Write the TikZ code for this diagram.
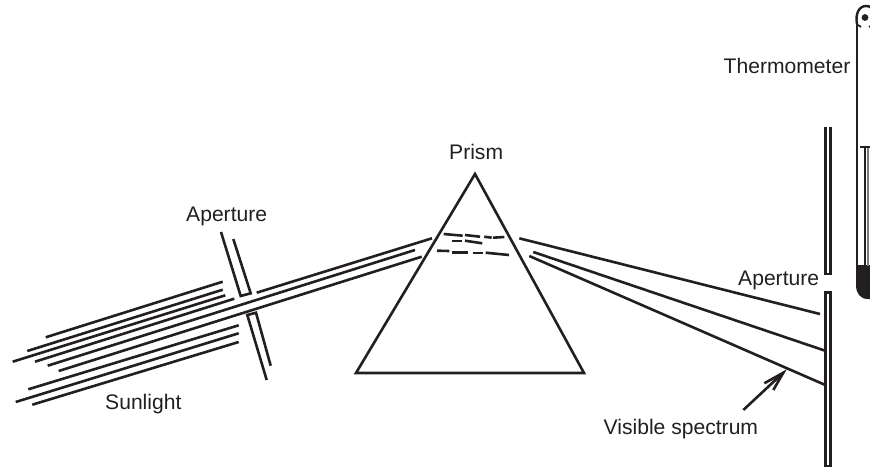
\documentclass[tikz,border=0pt]{standalone}
\usepackage{fontspec}
\setmainfont{Liberation Sans}
\definecolor{ink}{HTML}{231F20}
\tikzset{
  ray/.style={line width=2.6pt,color=ink},
  lab/.style={inner sep=0pt,anchor=base west,text=ink,font=\fontsize{21.1}{24}\selectfont},
}
\begin{document}
\begin{tikzpicture}[x=1pt,y=-1pt,line cap=butt,line join=miter]
\useasboundingbox (0,0) rectangle (870,468);
\begin{scope}
\clip (0,0) rectangle (870,468);
% sunlight
\draw[ray] (45.7,337.3)--(222.7,281.7);
\draw[ray] (27.3,351)--(222.7,289.7);
\draw[ray] (12.7,361.7)--(225.3,295.3);
\draw[ray] (35,361.7)--(234.3,298.7);
\draw[ray] (256.7,292.7)--(432,238.3);
\draw[ray] (47.7,365.7)--(415,250);
\draw[ray] (58.7,371)--(421.7,256.7);
\draw[ray] (28.3,389.3)--(238.7,325.3);
\draw[ray] (15.7,402)--(238.7,333.3);
\draw[ray] (32.3,404.7)--(238.7,342);
% first aperture
\draw[ray] (221,232)--(240.7,296)--(250.7,293.3)--(233.3,239);
\draw[ray] (266.7,380)--(247.3,315)--(256,312.7)--(270.7,365.7);
% prism
\draw[ray] (475,174)--(356,373)--(584,373)--cycle;
% internal dashes
\draw[ray] (443.7,234)--(462.7,235.7);
\draw[ray] (465,235)--(480,236.7);
\draw[ray] (484.3,236.7)--(491.7,237.7);
\draw[ray] (493,237.7)--(504.3,237);
\draw[ray] (452.3,241)--(462.3,241);
\draw[ray] (465,240.7)--(482.3,243.3);
\draw[ray] (437,250.7)--(449.3,251);
\draw[ray] (451.7,252.3)--(468.3,252.3);
\draw[ray] (472.7,253)--(483.3,253);
\draw[ray] (485.7,252.7)--(509,255);
% outgoing rays
\draw[ray] (519.3,238.3)--(820,314);
\draw[ray] (533.3,252)--(826,351);
\draw[ray] (529.3,256)--(826,385.3);
% screens
\draw[ray] (825.5,126.7)--(825.5,274)--(830.5,274)--(830.5,126.7);
\draw[ray] (825.5,292.7) rectangle (830.5,466);
% thermometer
\draw[line width=2.4pt,color=ink] (857,22)--(857,286);
\fill[ink] (856,265)--(875,265)--(875,299)--(868,299) .. controls (860,299) and (856,293) .. (856,285)--cycle;
\draw[line width=2.4pt,color=ink] (857,24) .. controls (855,14) and (859,6) .. (866,6) .. controls (868,6) and (870,6.5) .. (872,8);
\fill[ink] (865,17.5) circle (3.4);
\draw[line width=2pt,color=ink] (860,146.7)--(872,146.7);
\draw[line width=2pt,color=ink] (864.5,146.7)--(864.5,266);
\draw[line width=1.2pt,color=ink!60] (868,148)--(868,266);
\draw[line width=1.8pt,color=ink] (858,25)--(861,27);
\draw[line width=1.8pt,color=ink] (869,27)--(872,25);
\end{scope}
% arrow
\draw[ray] (743.3,410)--(783.3,372.7);
\draw[ray] (764.3,383.3)--(783.3,372.7)--(773.3,390);
% labels
\node[lab] (prism) at (449,160) {Prism};
\node[lab] (ap1) at (186,221) {Aperture};
\node[lab] (ap2) at (738,285.7) {Aperture};
\node[lab] (sun) at (105,409) {Sunlight};
\node[lab] (vis) at (603.5,434.3) {Visible spectrum};
\node[lab] (therm) at (723.5,74) {Thermometer};
\end{tikzpicture}
\end{document}
